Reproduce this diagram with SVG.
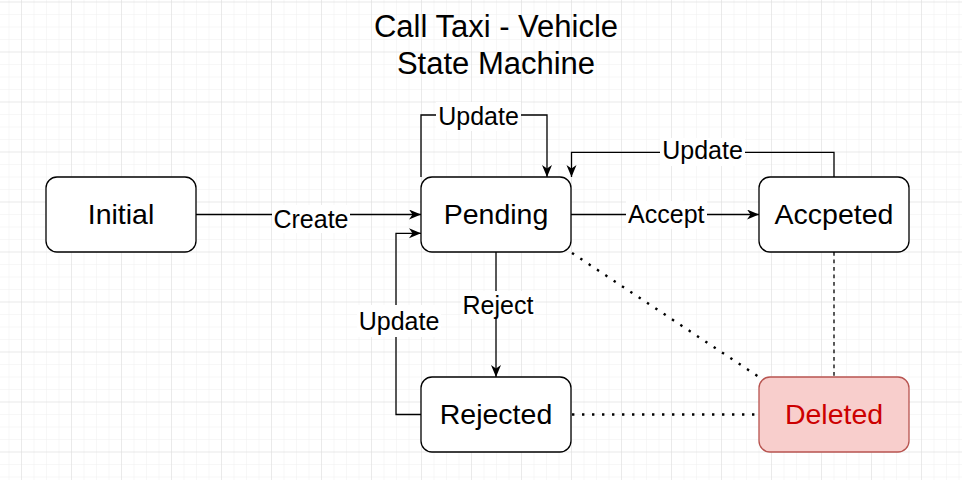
<svg xmlns="http://www.w3.org/2000/svg" width="962" height="480" viewBox="0 0 962 480">
  <defs>
    <pattern id="minor" x="21" y="1.5" width="12.5" height="12.5" patternUnits="userSpaceOnUse">
      <path d="M0,0 H12.5 M0,0 V12.5" fill="none" stroke="#f0f0f0" stroke-width="1"/>
    </pattern>
    <pattern id="major" x="21" y="1.5" width="50" height="50" patternUnits="userSpaceOnUse">
      <path d="M0,0 H50 M0,0 V50" fill="none" stroke="#dddddd" stroke-width="1"/>
    </pattern>
    <marker id="arrow" markerUnits="userSpaceOnUse" markerWidth="14" markerHeight="11" refX="12" refY="5" orient="auto">
      <path d="M0,0 L12,5 L0,10 L3.5,5 Z" fill="#000"/>
    </marker>
  </defs>
  <style>
    .node { fill: #ffffff; stroke: #000000; stroke-width: 1.3; }
    .deleted { fill: #f8cecc; stroke: #b85450; stroke-width: 1.3; }
    .ntext { font-family: "Liberation Sans", Arial, sans-serif; font-size: 28.5px; fill: #000; text-anchor: middle; }
    .dtext { fill: #cc0000; }
    .title { font-family: "Liberation Sans", Arial, sans-serif; font-size: 31px; fill: #000; text-anchor: middle; }
    .edge { fill: none; stroke: #000; stroke-width: 1.3; }
    .arrowed { marker-end: url(#arrow); }
    .dotted { fill: none; stroke: #000; stroke-width: 2.4; stroke-dasharray: 2.4 7.6; }
    .dashed { fill: none; stroke: #000; stroke-width: 1.3; stroke-dasharray: 3.75 3.75; }
    .lbg { fill: #ffffff; }
    .ltext { font-family: "Liberation Sans", Arial, sans-serif; font-size: 25px; fill: #000; text-anchor: middle; }
  </style>

  <rect width="962" height="480" fill="#ffffff"/>
  <rect width="962" height="480" fill="url(#minor)"/>
  <rect width="962" height="480" fill="url(#major)"/>

  <g id="title">
    <text class="title" x="496" y="37">Call Taxi - Vehicle</text>
    <text class="title" x="496" y="74">State Machine</text>
  </g>

  <g id="connectors">
    <g id="edge-create">
      <path class="edge arrowed" d="M196,214.5 H421"/>
      <rect class="lbg" x="272" y="205" width="78" height="28"/>
      <text class="ltext" x="311" y="228.3">Create</text>
    </g>
    <g id="edge-update-self">
      <path class="edge arrowed" d="M421,177 V115 H547 V177"/>
      <rect class="lbg" x="436" y="102" width="85" height="29"/>
      <text class="ltext" x="478.5" y="125">Update</text>
    </g>
    <g id="edge-update-accepted">
      <path class="edge arrowed" d="M834,177 V152.3 H571.5 V177"/>
      <rect class="lbg" x="660" y="138" width="85" height="28"/>
      <text class="ltext" x="702.5" y="159.3">Update</text>
    </g>
    <g id="edge-accept">
      <path class="edge arrowed" d="M571,214.5 H759"/>
      <rect class="lbg" x="626" y="201" width="81" height="28"/>
      <text class="ltext" x="666.3" y="223.3">Accept</text>
    </g>
    <g id="edge-reject">
      <path class="edge arrowed" d="M496,252 V377"/>
      <rect class="lbg" x="461" y="291" width="74" height="28"/>
      <text class="ltext" x="498" y="314">Reject</text>
    </g>
    <g id="edge-update-rejected">
      <path class="edge arrowed" d="M421,414.5 H396 V233.3 H421"/>
      <rect class="lbg" x="357" y="305" width="84" height="32"/>
      <text class="ltext" x="399" y="330">Update</text>
    </g>
    <path id="edge-pending-deleted" class="dotted" d="M572,253 L759,377"/>
    <path id="edge-rejected-deleted" class="dotted" d="M572,414.5 H759"/>
    <path id="edge-accepted-deleted" class="dashed" d="M834,252 V377"/>
  </g>

  <g id="node-initial">
    <rect class="node" x="46" y="177" width="150" height="75" rx="11" ry="11"/>
    <text class="ntext" x="121" y="223.5">Initial</text>
  </g>
  <g id="node-pending">
    <rect class="node" x="421" y="177" width="150" height="75" rx="11" ry="11"/>
    <text class="ntext" x="496" y="223.5">Pending</text>
  </g>
  <g id="node-accepted">
    <rect class="node" x="759" y="177" width="150" height="75" rx="11" ry="11"/>
    <text class="ntext" x="834" y="223.5">Accpeted</text>
  </g>
  <g id="node-rejected">
    <rect class="node" x="421" y="377" width="150" height="75" rx="11" ry="11"/>
    <text class="ntext" x="496" y="423.5">Rejected</text>
  </g>
  <g id="node-deleted">
    <rect class="deleted" x="759" y="377" width="150" height="75" rx="11" ry="11"/>
    <text class="ntext dtext" x="834" y="423.5">Deleted</text>
  </g>
</svg>
